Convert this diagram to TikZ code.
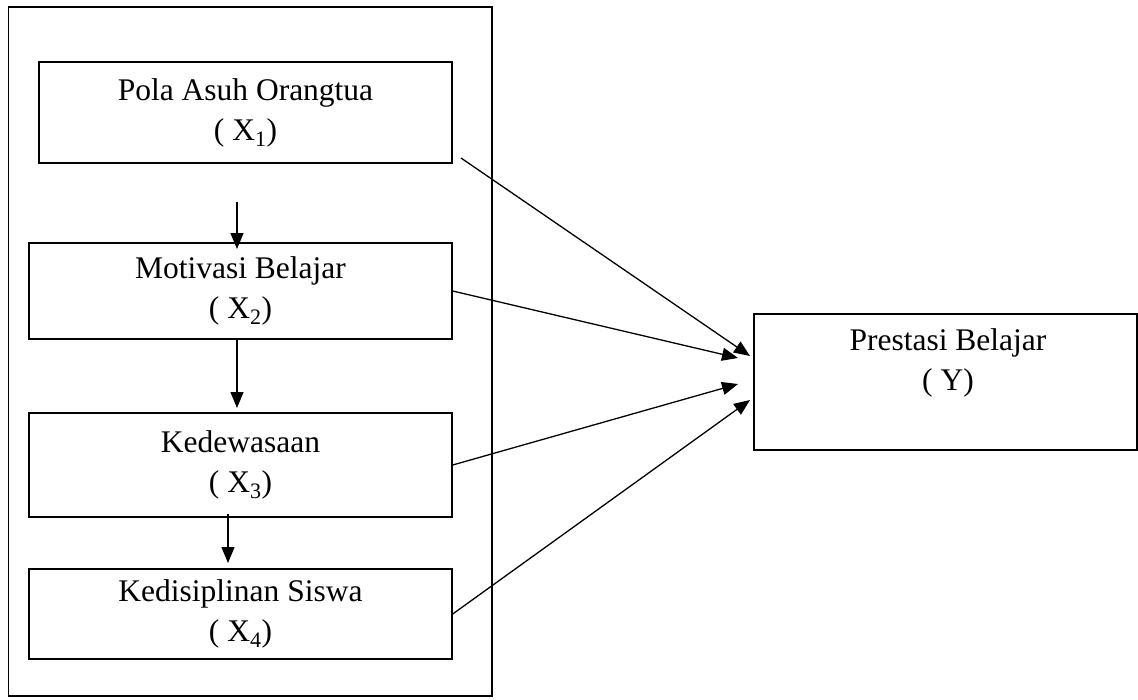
\documentclass[tikz,border=0pt]{standalone}
\usepackage{fontspec}
\setmainfont{Liberation Serif}
\usetikzlibrary{arrows.meta}
\begin{document}
\begin{tikzpicture}[x=1pt,y=-1pt,
  frame/.style={draw, line width=1.4pt},
  box/.style={draw, line width=1.4pt, inner sep=0pt, align=center,
    font=\fontsize{31.5}{40}\selectfont},
  lbl/.style={align=center, inner sep=0pt, font=\fontsize{31.5}{40}\selectfont},
  arr/.style={line width=1.3pt, -{Triangle[length=16pt,width=13pt]}}]
\useasboundingbox (0,0) rectangle (1138,699);
\draw[frame] (8.5,7) rectangle (492,696);
\node[box, minimum width=413pt, minimum height=101pt] (b1) at (245.5,112.5)
  {Pola Asuh Orangtua\\( X\textsubscript{1})};
\node[box, minimum width=423pt, minimum height=96pt] (b2) at (240.5,291)
  {Motivasi Belajar\\( X\textsubscript{2})};
\node[box, minimum width=423pt, minimum height=104pt] (b3) at (240.5,465)
  {Kedewasaan\\( X\textsubscript{3})};
\node[box, minimum width=423pt, minimum height=90pt] (b4) at (240.5,614)
  {Kedisiplinan Siswa\\( X\textsubscript{4})};
\node[box, minimum width=383pt, minimum height=136pt] (y) at (945.5,382) {};
\node[lbl] (yt) at (948,363) {Prestasi Belajar\\( Y)};
% vertical connectors
\coordinate (v1s) at (237,202); \coordinate (v1e) at (237,249);
\coordinate (v2s) at (237,340); \coordinate (v2e) at (237,408);
\coordinate (v3s) at (228,514); \coordinate (v3e) at (228,563);
\draw[arr] (v1s) -- (v1e);
\draw[arr] (v2s) -- (v2e);
\draw[arr] (v3s) -- (v3e);
% diagonal connectors
\coordinate (d1s) at (461,158);
\coordinate (d1e) at (750,356);
\coordinate (d2e) at (738,358);
\coordinate (d3e) at (738,384);
\coordinate (d4e) at (750,400);
\draw[arr] (d1s) -- (d1e);
\draw[arr] (b2.east) -- (d2e);
\draw[arr] (b3.east) -- (d3e);
\draw[arr] (b4.east) -- (d4e);
\end{tikzpicture}
\end{document}
